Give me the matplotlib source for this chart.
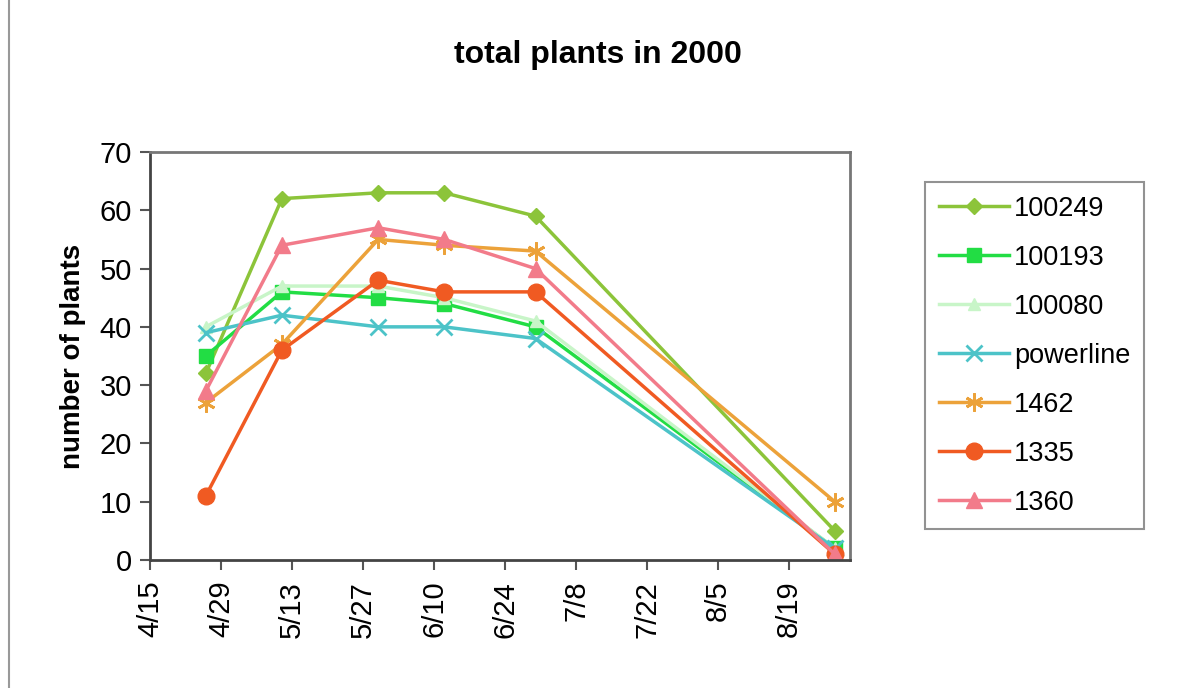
import datetime as dt
import matplotlib
matplotlib.use("Agg")
import matplotlib.pyplot as plt
import matplotlib.dates as mdates
from matplotlib.lines import Line2D

plt.rcParams['font.family'] = ['Liberation Sans', 'DejaVu Sans']

# survey dates (2000)
dates = [dt.date(2000, 4, 26), dt.date(2000, 5, 11), dt.date(2000, 5, 30),
         dt.date(2000, 6, 12), dt.date(2000, 6, 30), dt.date(2000, 8, 28)]

site_names = ["100249", "100193", "100080", "powerline", "1462", "1335", "1360"]
s100249 = [32, 62, 63, 63, 59, 5]
s100193 = [35, 46, 45, 44, 40, 2]
s100080 = [40, 47, 47, 45, 41, 2]
powerline = [39, 42, 40, 40, 38, 2]
s1462 = [27, 37, 55, 54, 53, 10]
s1335 = [11, 36, 48, 46, 46, 1]
s1360 = [29, 54, 57, 55, 50, 1]

tick_dates = [dt.date(2000, 4, 15) + dt.timedelta(days=14 * i) for i in range(10)]

series = [s100249, s100193, s100080, powerline, s1462, s1335, s1360]
styles = [
    dict(color="#8cc43a", marker="D", ms=8),
    dict(color="#22dd44", marker="s", ms=10),
    dict(color="#c8f5c8", marker="^", ms=9),
    dict(color="#4cc3c8", marker="x", ms=11, mew=2),
    dict(color="#eca23a", marker=(6, 2, 0), ms=13, mew=2),
    dict(color="#f05a22", marker="o", ms=12),
    dict(color="#f27b8a", marker="^", ms=11),
]

fig = plt.figure(figsize=(11.87, 6.88), dpi=100)
ax = fig.add_axes([150 / 1187, 1 - 560 / 688, 700 / 1187, 408 / 688])

for name, vals, st in zip(site_names, series, styles):
    ax.plot(dates, vals, lw=2.5, label=name, **st)

ax.set_ylim(0, 70)
ax.set_yticks(range(0, 71, 10))
ax.set_xlim(dt.date(2000, 4, 15), dt.date(2000, 8, 31))
ax.set_xticks(tick_dates)
ax.xaxis.set_major_formatter(
    matplotlib.ticker.FuncFormatter(lambda v, p: "{d.month}/{d.day}".format(d=mdates.num2date(v))))
ax.tick_params(axis='x', labelsize=21, rotation=90, length=7, width=1.5, color="#555555", pad=8)
ax.tick_params(axis='y', labelsize=21, length=7, width=1.5, color="#555555", pad=6)
for sp in ax.spines.values():
    sp.set_color("#777777")
    sp.set_linewidth(2)
ax.spines['left'].set_color("#444444")
ax.spines['bottom'].set_color("#444444")

ax.set_ylabel("number of plants", fontsize=20, fontweight="bold", labelpad=10)
fig.text(0.504, 0.92, "total plants in 2000", ha="center", va="center",
         fontsize=23, fontweight="bold")

leg = fig.legend(loc="upper left", bbox_to_anchor=(925 / 1187, 1 - 182 / 688),
                 borderaxespad=0, fontsize=19.5, frameon=True, fancybox=False,
                 handlelength=2.6, borderpad=0.5, labelspacing=0.85, handletextpad=0.2)
leg.get_frame().set_edgecolor("#777777")
leg.get_frame().set_linewidth(1.5)

fig.add_artist(Line2D([9 / 1187, 9 / 1187], [0, 1], color="#999999", lw=1.5))

fig.savefig("out.png", dpi=100)
